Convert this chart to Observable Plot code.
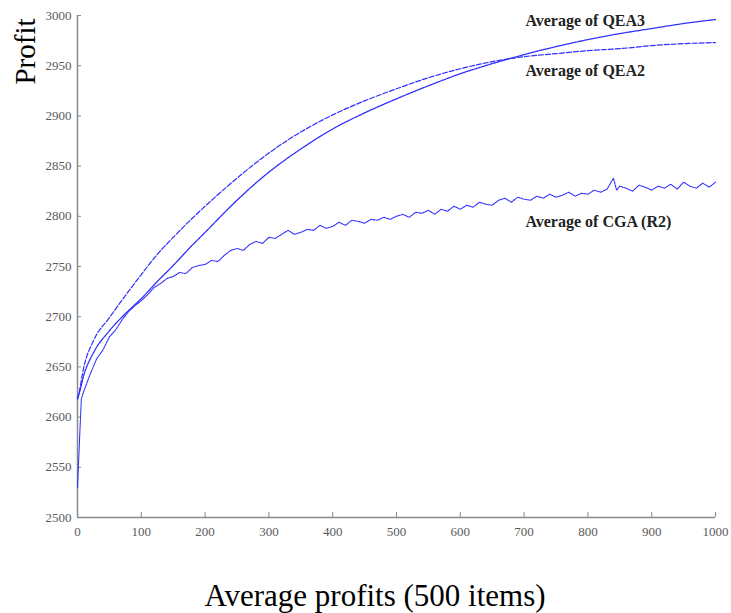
<!DOCTYPE html>
<html>
<head>
<meta charset="utf-8">
<script src="https://cdn.jsdelivr.net/npm/d3@7"></script>
<script src="https://cdn.jsdelivr.net/npm/@observablehq/plot@0.6"></script>
<style>
  html, body { margin: 0; padding: 0; background: #fff; }
  #wrap { position: relative; width: 731px; height: 613px; overflow: hidden; }
  #caption { position: absolute; left: 0; width: 750px; top: 580px; text-align: center;
    font-family: "Liberation Serif", "DejaVu Serif", serif; font-size: 31px; line-height: 1; color: #000; }
</style>
</head>
<body>
<div id="wrap"><div id="chart"></div><div id="caption">Average profits (500 items)</div></div>
<script>
// ---- data ----
const qeaX = [0, 2, 10, 25, 50, 75, 100, 125, 150, 175, 200, 250, 300, 350, 400, 450, 500, 550, 600, 650, 700, 750, 800, 850, 900, 950, 1000];
const qea2 = [2618, 2623, 2650, 2676, 2699, 2721, 2742, 2762, 2779, 2795, 2810, 2838, 2863, 2884, 2901, 2915, 2927, 2938, 2947, 2954, 2959, 2962, 2965, 2967, 2970, 2972, 2973];
const qea3 = [2618, 2622, 2642, 2664, 2686, 2703, 2718, 2735, 2751, 2768, 2784, 2816, 2844, 2867, 2887, 2903, 2917, 2930, 2942, 2952, 2961, 2969, 2976, 2982, 2987, 2992, 2996];

const cgaX = [0, 3, 6, 10, 20, 30, 40, 50, 60, 70, 80, 90, 100, 110, 120, 130, 140, 150, 160, 170, 180, 190, 200,
  210, 220, 230, 240, 250, 260, 270, 280, 290, 300, 310, 320, 330, 340, 350, 360, 370, 380, 390, 400,
  410, 420, 430, 440, 450, 460, 470, 480, 490, 500, 510, 520, 530, 540, 550, 560, 570, 580, 590, 600,
  610, 620, 630, 640, 650, 660, 670, 680, 690, 700, 710, 720, 730, 740, 750, 760, 770, 780, 790, 800,
  810, 820, 830, 840, 845, 850, 860, 870, 880, 890, 900, 910, 920, 930, 940, 950, 960, 970, 980, 990, 1000];
const cga = [2530, 2575, 2618, 2626, 2643, 2658, 2667, 2680, 2687, 2697, 2705, 2711, 2716, 2722, 2729, 2733, 2738, 2740, 2744, 2743, 2749, 2751, 2752,
  2756, 2755, 2761, 2766, 2768, 2766, 2772, 2775, 2773, 2779, 2778, 2782, 2786, 2782, 2784, 2787, 2786, 2791, 2788, 2790,
  2794, 2791, 2796, 2795, 2793, 2797, 2796, 2799, 2797, 2800, 2802, 2799, 2804, 2803, 2806, 2802, 2807, 2805, 2810, 2807,
  2811, 2809, 2814, 2812, 2811, 2816, 2818, 2814, 2819, 2817, 2816, 2820, 2818, 2822, 2819, 2821, 2824, 2820, 2823, 2822,
  2826, 2824, 2827, 2838, 2826, 2830, 2828, 2825, 2831, 2829, 2826, 2830, 2828, 2832, 2827, 2834, 2830, 2828, 2833, 2829, 2834];

const xTicks = [0, 100, 200, 300, 400, 500, 600, 700, 800, 900, 1000];
const yTicks = [2500, 2550, 2600, 2650, 2700, 2750, 2800, 2850, 2900, 2950, 3000];

const seriesNames = ["Average of QEA3", "Average of QEA2", "Average of CGA (R2)"];
const labelAt = [
  {text: seriesNames[0], x: 702, y: 2995},
  {text: seriesNames[1], x: 702, y: 2945},
  {text: seriesNames[2], x: 702, y: 2794}
];

// ---- build ----
const q2 = qeaX.map((x, i) => ({x, y: qea2[i]}));
const q3 = qeaX.map((x, i) => ({x, y: qea3[i]}));
const cg = cgaX.map((x, i) => ({x, y: cga[i]}));

const serif = '"Liberation Serif", "DejaVu Serif", serif';
const blue = "#2f2fff";
const axisGray = "#8a8a8a";

const chart = Plot.plot({
  width: 731,
  height: 545,
  marginLeft: 77,
  marginRight: 16,
  marginTop: 15,
  marginBottom: 28,
  style: {fontFamily: serif, background: "#fff"},
  x: {domain: [0, 1000], axis: null},
  y: {domain: [2500, 3000], axis: null},
  marks: [
    // axis lines
    Plot.ruleX([0], {stroke: axisGray, strokeWidth: 1.5}),
    Plot.ruleY([2500], {stroke: axisGray, strokeWidth: 1.5}),
    // inward ticks
    Plot.axisY({ticks: yTicks, tickSize: 4, dx: 4, tickFormat: () => "", label: null, stroke: axisGray}),
    Plot.axisX({ticks: xTicks, tickSize: 5, dy: -5, tickFormat: () => "", label: null, stroke: axisGray}),
    // tick labels
    Plot.axisY({ticks: yTicks, tickSize: 0, tickPadding: 6, tickFormat: d => String(d), label: null, fontSize: 13, fill: "#5a5a5a", fontFamily: serif}),
    Plot.axisX({ticks: xTicks, tickSize: 0, tickPadding: 9, tickFormat: d => String(d), label: null, fontSize: 13, fill: "#5a5a5a", fontFamily: serif}),
    // series
    Plot.line(q2, {x: "x", y: "y", stroke: blue, strokeWidth: 1.2, strokeDasharray: "5,2", curve: "monotone-x"}),
    Plot.line(q3, {x: "x", y: "y", stroke: blue, strokeWidth: 1.3, strokeDasharray: "3,1", curve: "monotone-x"}),
    Plot.line(cg, {x: "x", y: "y", stroke: blue, strokeWidth: 1.1, strokeDasharray: "2,1"}),
    // series labels
    Plot.text(labelAt, {x: "x", y: "y", text: "text", textAnchor: "start", fontSize: 16, fontWeight: "bold", fill: "#222", fontFamily: serif}),
    // y title
    Plot.text(["Profit"], {frameAnchor: "top-left", text: d => d, rotate: -90, dx: -63, dy: 36, fontSize: 29, fill: "#000", fontFamily: serif, textAnchor: "middle"})
  ]
});
document.getElementById("chart").appendChild(chart);
</script>
</body>
</html>
